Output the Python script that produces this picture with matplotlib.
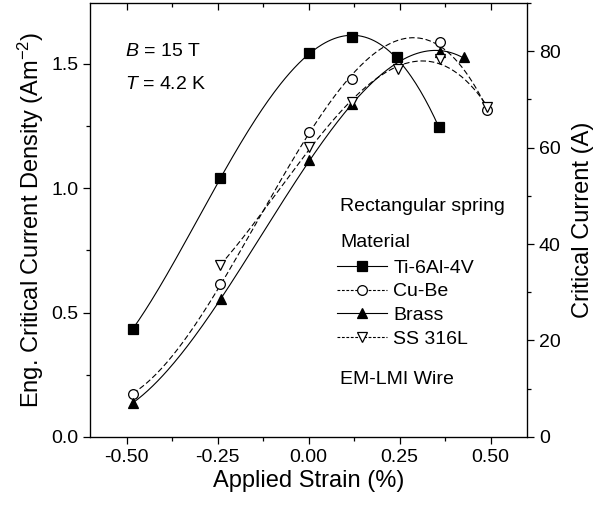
import matplotlib.pyplot as plt
from matplotlib.ticker import MultipleLocator
import numpy as np

plt.rcParams['font.family'] = ['Liberation Sans', 'DejaVu Sans']
plt.rcParams['mathtext.fontset'] = 'custom'
plt.rcParams['mathtext.rm'] = 'Liberation Sans'
plt.rcParams['mathtext.it'] = 'Liberation Sans:italic'

# strain (%) and engineering critical current density (Am^-2)
strain_ti = [-0.483, -0.242, 0.0, 0.12, 0.242, 0.358]
jc_ti = [0.434, 1.04, 1.542, 1.61, 1.526, 1.245]

strain_cube = [-0.483, -0.242, 0.0, 0.12, 0.36, 0.49]
jc_cube = [0.173, 0.615, 1.225, 1.438, 1.59, 1.313]

strain_brass = [-0.483, -0.24, 0.0, 0.12, 0.36, 0.427]
jc_brass = [0.137, 0.554, 1.112, 1.337, 1.55, 1.526]

strain_ss = [-0.242, 0.0, 0.12, 0.245, 0.36, 0.49]
jc_ss = [0.69, 1.165, 1.345, 1.478, 1.52, 1.325]

series = [
    ('Ti-6Al-4V', strain_ti, jc_ti, 's', 'k', '-', 4),
    ('Cu-Be', strain_cube, jc_cube, 'o', 'white', '--', 3),
    ('Brass', strain_brass, jc_brass, '^', 'k', '-', 3),
    ('SS 316L', strain_ss, jc_ss, 'v', 'white', '--', 3),
]

J_TOP = 1.745
I_TOP = 90


def smooth(x, y, deg):
    p = np.polyfit(x, y, deg)
    xs = np.linspace(min(x), max(x), 200)
    return xs, np.polyval(p, xs)


fig = plt.figure(figsize=(6.05, 5.05), dpi=100)
ax = fig.add_axes([0.149, 0.135, 0.722, 0.859])

handles = []
for name, xs, ys, mk, fc, ls, deg in series:
    ms = 6.5 if mk == 's' else 7
    cx, cy = smooth(xs, ys, deg)
    ln, = ax.plot(cx, cy, ls, color='k', lw=0.8)
    if ls == '--':
        ln.set_dashes((5, 2.5))
    ax.plot(xs, ys, mk, ls='none', mfc=fc, mec='k', mew=0.9, ms=ms)
    h, = ax.plot([], [], ls, marker=mk, color='k', mfc=fc, mec='k', mew=0.9,
                 ms=ms, lw=0.8, label=name)
    if ls == '--':
        h.set_dashes((2.5, 1.5))
    handles.append(h)

ax.set_xlim(-0.6, 0.6)
ax.set_ylim(0, J_TOP)
ax.set_xticks([-0.5, -0.25, 0.0, 0.25, 0.5])
ax.set_xticklabels(['-0.50', '-0.25', '0.00', '0.25', '0.50'])
ax.xaxis.set_minor_locator(MultipleLocator(0.125))
ax.set_yticks([0.0, 0.5, 1.0, 1.5])
ax.set_yticklabels(['0.0', '0.5', '1.0', '1.5'])
ax.yaxis.set_minor_locator(MultipleLocator(0.25))
ax.tick_params(axis='both', which='both', direction='out', labelsize=14, width=0.9)
ax.tick_params(which='major', length=5)
ax.tick_params(which='minor', length=3)
ax.tick_params(axis='x', which='both', top=True, labeltop=False)
for s in ax.spines.values():
    s.set_linewidth(0.9)

ax2 = ax.twinx()
ax2.set_ylim(0, I_TOP)
ax2.set_yticks([0, 20, 40, 60, 80])
ax2.yaxis.set_minor_locator(MultipleLocator(10))
ax2.tick_params(axis='y', which='both', direction='out', labelsize=14, width=0.9)
ax2.tick_params(which='major', length=5)
ax2.tick_params(which='minor', length=3)

# top ticks point inward
for t in ax.xaxis.get_major_ticks() + ax.xaxis.get_minor_ticks():
    t.tick2line.set_marker(3)

ax.set_xlabel('Applied Strain (%)', fontsize=17, labelpad=3)
ax.set_ylabel('Eng. Critical Current Density (Am$^{-2}$)', fontsize=17, labelpad=4)
ax2.set_ylabel('Critical Current (A)', fontsize=17, labelpad=8)

ax.text(0.08, 0.888, '$B$ = 15 T', transform=ax.transAxes, fontsize=14, va='center')
ax.text(0.08, 0.812, '$T$ = 4.2 K', transform=ax.transAxes, fontsize=14, va='center')
ax.text(0.572, 0.532, 'Rectangular spring', transform=ax.transAxes, fontsize=14, va='center')
ax.text(0.572, 0.447, 'Material', transform=ax.transAxes, fontsize=14, va='center')
ax.text(0.572, 0.131, 'EM-LMI Wire', transform=ax.transAxes, fontsize=14, va='center')

ax.legend(handles=handles, loc='upper left', bbox_to_anchor=(0.565, 0.41),
          frameon=False, fontsize=14, handlelength=2.6, handletextpad=0.3,
          labelspacing=0.32, borderpad=0, borderaxespad=0)

fig.savefig('out.png', dpi=100)
